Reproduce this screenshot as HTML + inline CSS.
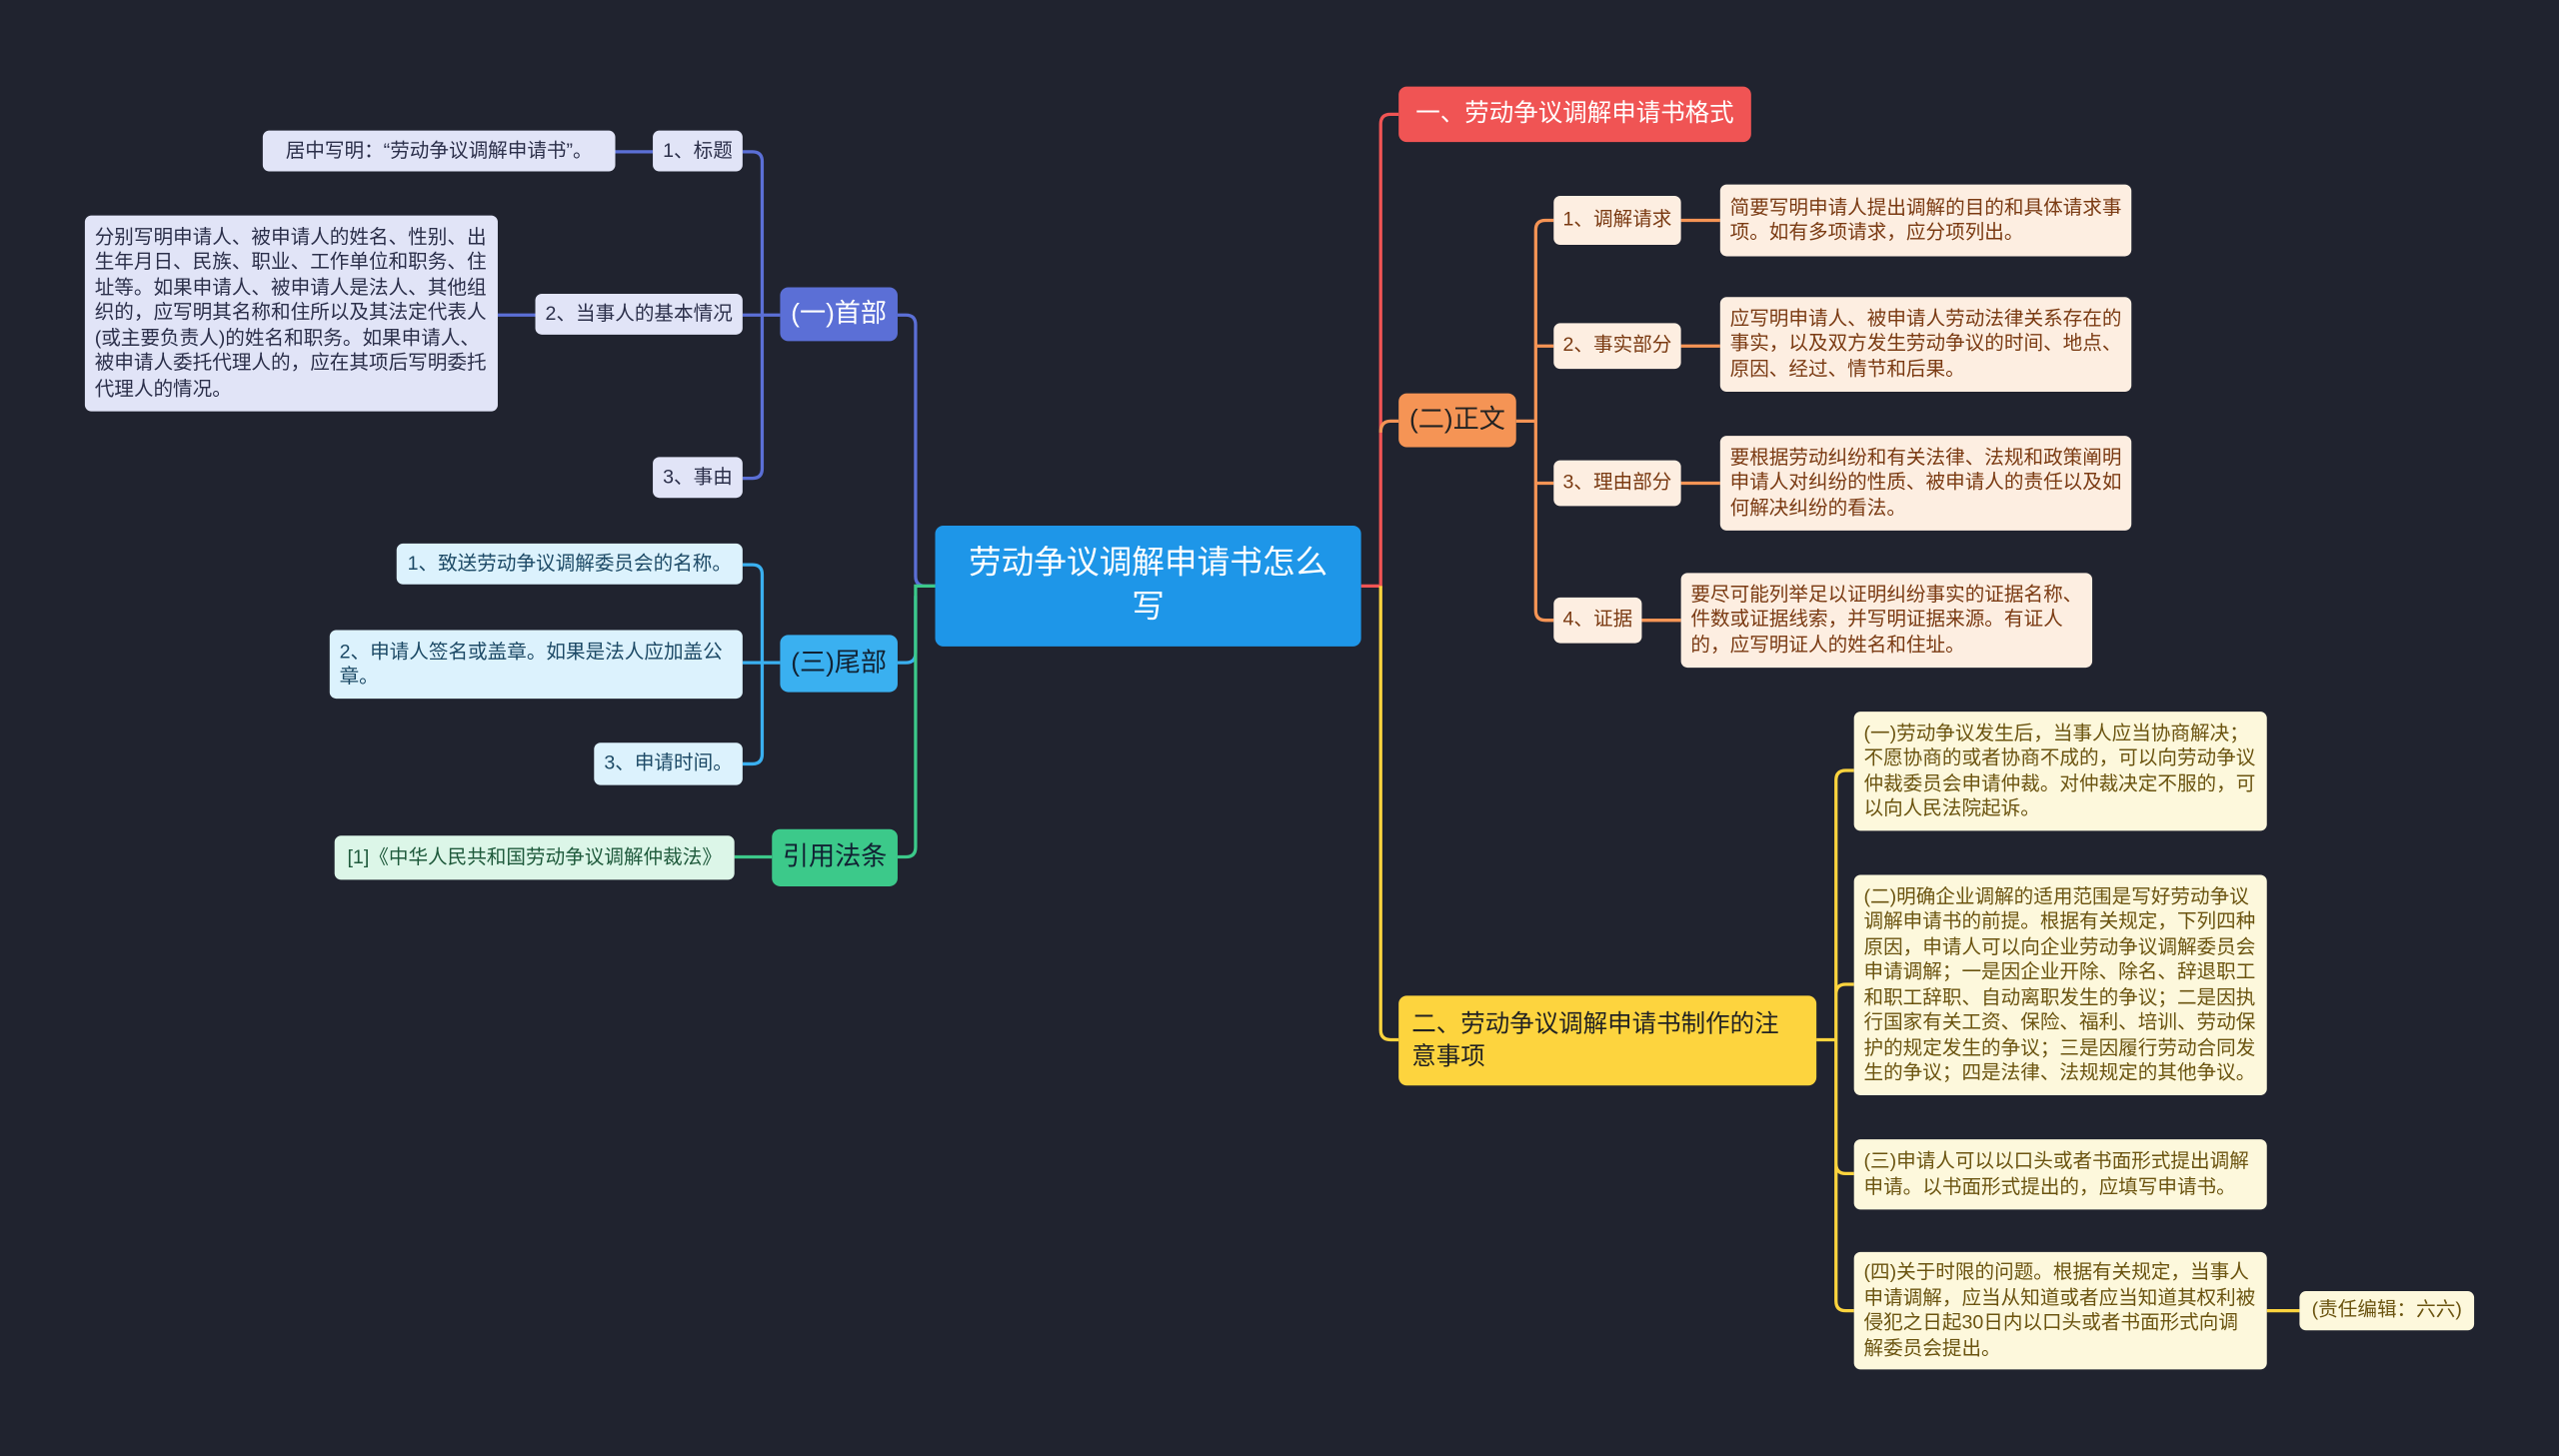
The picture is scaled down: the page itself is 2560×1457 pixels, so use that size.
<!DOCTYPE html>
<html><head><meta charset="utf-8"><style>
html,body{margin:0;padding:0;background:#20232f;overflow:hidden}
#w{position:absolute;left:0;top:0;width:1568px;height:892px;transform:scale(1.63265,1.63341);transform-origin:0 0;font-family:"Liberation Sans","Noto Sans CJK SC",sans-serif}
.b{position:absolute;box-sizing:border-box;border-radius:4px;font-size:12px;line-height:15.5px;padding:0 6px;display:flex;align-items:center}
.n{white-space:nowrap;padding:0 5px;justify-content:center}
.p{color:#2b2f4a;background:#e1e4f7}
.c{color:#1d4a66;background:#dcf2fd}
.g{color:#1f5a3c;background:#dcf6e8}
.o{color:#7a3a12;background:#fdeee1}
.y{color:#6b5410;background:#fdf8dc}
.m{color:#fff;font-size:16px;justify-content:center;border-radius:5px;white-space:nowrap}
svg{position:absolute;left:0;top:0}
</style></head><body><div id="w">
<svg width="1568" height="892" fill="none" stroke-width="2">
<g stroke="#5b6fd6"><path d="M550 193 H555 Q561 193 561 199 V353 Q561 359 567 359 H573"/>
<path d="M478 193 H455 M467 193 V99 Q467 93 461 93 H455 M467 193 V287 Q467 293 461 293 H455 M377 93 H400 M305 193 H328"/></g>
<g stroke="#3ab0f0"><path d="M550 406 H555 Q561 406 561 400 V365 M478 406 H455 M467 406 V352 Q467 346 461 346 H455 M467 406 V462 Q467 468 461 468 H455"/></g>
<g stroke="#3cc98a"><path d="M550 525 H555 Q561 525 561 519 V359 H573 M473 525 H450"/></g>
<g stroke="#f05454"><path d="M834 359 H846 V76 Q846 70 852 70 H857"/></g>
<g stroke="#f59455"><path d="M846 265 Q846 258 852 258 H857 M929 258 H941 M941 258 V141 Q941 135 947 135 H952 M941 212 Q941 212 952 212 M941 258 V374 Q941 380 947 380 H952 M941 296 H952 M1030 135 H1054 M1030 212 H1054 M1030 296 H1054 M1006 380 H1030"/></g>
<g stroke="#fdd43e"><path d="M846 359 V631 Q846 637 852 637 H857 M1113 637 H1125 M1125 637 V478 Q1125 472 1131 472 H1136 M1125 637 V609 Q1125 603 1131 603 H1136 M1125 637 V713 Q1125 719 1131 719 H1136 M1125 637 V797 Q1125 803 1131 803 H1136 M1389 803 H1409"/></g>
</svg>
<div class="b m" style="left:573px;top:322px;width:261px;height:74px;background:#1e96e8;font-size:20px;line-height:27px;text-align:center;border-radius:5px;white-space:normal">劳动争议调解申请书怎么<br>写</div>
<div class="b m" style="left:478px;top:176px;width:72px;height:33px;background:#5b6fd6">(一)首部</div>
<div class="b p n" style="left:400px;top:80px;width:55px;height:25px">1、标题</div>
<div class="b p n" style="left:161px;top:80px;width:216px;height:25px">居中写明：“劳动争议调解申请书”。</div>
<div class="b p n" style="left:328px;top:180px;width:127px;height:25px">2、当事人的基本情况</div>
<div class="b p" style="left:52px;top:132px;width:253px;height:120px">分别写明申请人、被申请人的姓名、性别、出生年月日、民族、职业、工作单位和职务、住址等。如果申请人、被申请人是法人、其他组织的，应写明其名称和住所以及其法定代表人(或主要负责人)的姓名和职务。如果申请人、被申请人委托代理人的，应在其项后写明委托代理人的情况。</div>
<div class="b p n" style="left:400px;top:280px;width:55px;height:25px">3、事由</div>
<div class="b m" style="left:478px;top:389px;width:72px;height:35px;background:#3ab0f0;color:#123">(三)尾部</div>
<div class="b c n" style="left:243px;top:333px;width:212px;height:25px">1、致送劳动争议调解委员会的名称。</div>
<div class="b c" style="left:202px;top:386px;width:253px;height:42px">2、申请人签名或盖章。如果是法人应加盖公章。</div>
<div class="b c n" style="left:364px;top:455px;width:91px;height:26px">3、申请时间。</div>
<div class="b m" style="left:473px;top:508px;width:77px;height:35px;background:#3cc98a;color:#123">引用法条</div>
<div class="b g n" style="left:205px;top:512px;width:245px;height:27px">[1]《中华人民共和国劳动争议调解仲裁法》</div>
<div class="b m" style="left:857px;top:53px;width:216px;height:34px;background:#f05454;font-size:15px">一、劳动争议调解申请书格式</div>
<div class="b m" style="left:857px;top:241px;width:72px;height:33px;background:#f59455;color:#222">(二)正文</div>
<div class="b o n" style="left:952px;top:120px;width:78px;height:30px">1、调解请求</div>
<div class="b o n" style="left:952px;top:198px;width:78px;height:28px">2、事实部分</div>
<div class="b o n" style="left:952px;top:282px;width:78px;height:28px">3、理由部分</div>
<div class="b o n" style="left:952px;top:366px;width:54px;height:28px">4、证据</div>
<div class="b o" style="left:1054px;top:113px;width:252px;height:44px">简要写明申请人提出调解的目的和具体请求事项。如有多项请求，应分项列出。</div>
<div class="b o" style="left:1054px;top:182px;width:252px;height:58px">应写明申请人、被申请人劳动法律关系存在的事实，以及双方发生劳动争议的时间、地点、原因、经过、情节和后果。</div>
<div class="b o" style="left:1054px;top:267px;width:252px;height:58px">要根据劳动纠纷和有关法律、法规和政策阐明申请人对纠纷的性质、被申请人的责任以及如何解决纠纷的看法。</div>
<div class="b o" style="left:1030px;top:351px;width:252px;height:58px">要尽可能列举足以证明纠纷事实的证据名称、件数或证据线索，并写明证据来源。有证人的，应写明证人的姓名和住址。</div>
<div class="b m" style="left:857px;top:610px;width:256px;height:55px;background:#fdd43e;color:#222;font-size:15px;line-height:20px;justify-content:flex-start;padding:0 8px;white-space:normal">二、劳动争议调解申请书制作的注<br>意事项</div>
<div class="b y" style="left:1136px;top:436px;width:253px;height:73px">(一)劳动争议发生后，当事人应当协商解决；不愿协商的或者协商不成的，可以向劳动争议仲裁委员会申请仲裁。对仲裁决定不服的，可以向人民法院起诉。</div>
<div class="b y" style="left:1136px;top:536px;width:253px;height:135px">(二)明确企业调解的适用范围是写好劳动争议调解申请书的前提。根据有关规定，下列四种原因，申请人可以向企业劳动争议调解委员会申请调解；一是因企业开除、除名、辞退职工和职工辞职、自动离职发生的争议；二是因执行国家有关工资、保险、福利、培训、劳动保护的规定发生的争议；三是因履行劳动合同发生的争议；四是法律、法规规定的其他争议。</div>
<div class="b y" style="left:1136px;top:698px;width:253px;height:43px">(三)申请人可以以口头或者书面形式提出调解申请。以书面形式提出的，应填写申请书。</div>
<div class="b y" style="left:1136px;top:767px;width:253px;height:72px">(四)关于时限的问题。根据有关规定，当事人申请调解，应当从知道或者应当知道其权利被侵犯之日起30日内以口头或者书面形式向调解委员会提出。</div>
<div class="b y n" style="left:1409px;top:791px;width:107px;height:24px">(责任编辑：六六)</div>
</div></body></html>
